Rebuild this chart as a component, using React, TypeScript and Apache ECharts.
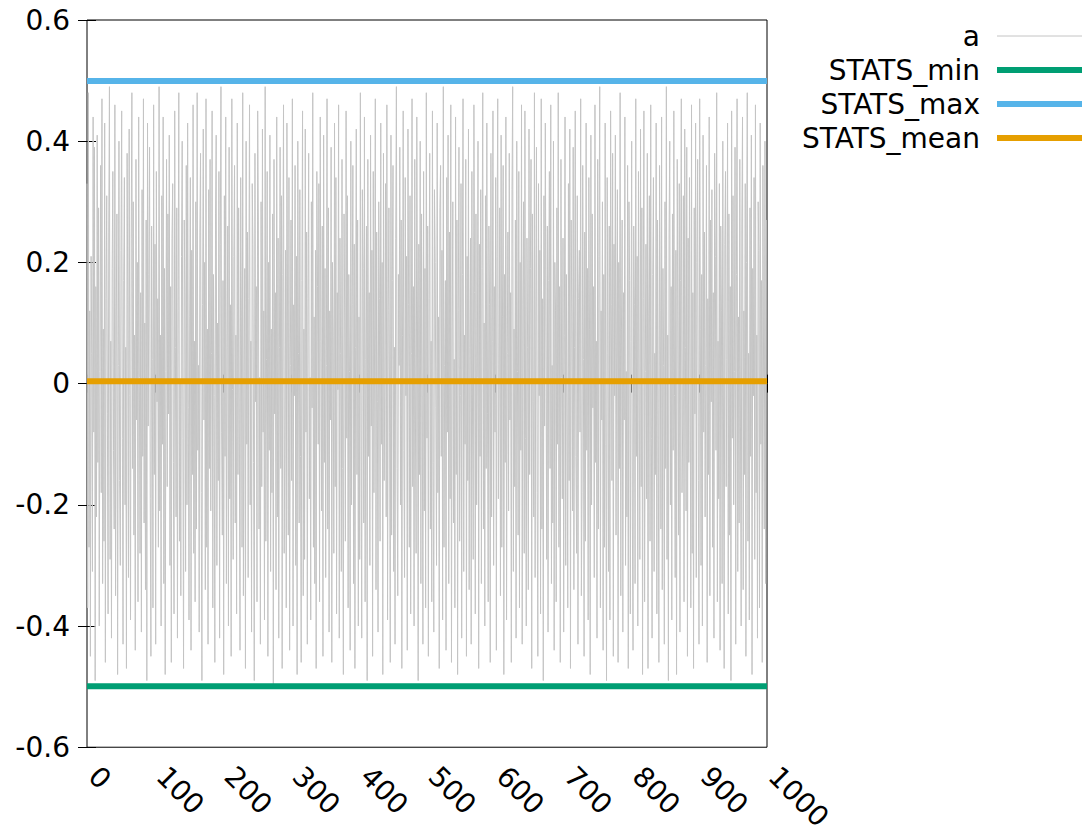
import React, { useEffect, useRef } from "react";
import * as echarts from "echarts";

// Series "a": values read (estimated) from the reference, x = index 0..999
const seriesA: number[] = [
  .33,-.37,.48,-.27,.12,-.45,.21,.05,-.31,.44,-.08,.39,-.49,.16,-.22,.41,-.13,.29,-.40,.02,
  .36,-.18,.47,-.33,.09,-.26,.43,-.46,.14,.31,-.05,-.38,.25,.49,-.29,.07,-.42,.19,.35,-.11,
  -.24,.46,-.35,.11,.28,-.48,.03,.40,-.16,-.30,.22,.45,-.09,-.43,.17,.34,-.20,.06,-.47,.38,
  .13,-.32,.42,-.02,-.39,.24,.48,-.14,.30,-.25,.08,-.44,.37,-.06,.20,-.36,.44,.01,-.28,.15,
  -.41,.32,-.12,.47,-.23,.10,-.34,.27,-.49,.43,-.07,.18,.39,-.19,-.45,.26,.04,-.37,.46,-.15,
  .23,-.43,.35,-.03,.14,-.27,.49,-.21,.08,-.40,.31,-.10,.44,-.33,.19,-.48,.02,.37,-.17,.28,
  -.05,.41,-.30,.16,-.46,.24,.33,-.13,-.38,.45,.06,-.22,.29,-.42,.12,.48,-.26,.00,-.35,.21,
  .40,-.09,-.47,.27,.15,-.31,.36,-.20,.43,-.04,-.39,.11,.34,-.44,.22,-.15,.46,-.28,.07,-.36,
  .30,-.24,.48,-.11,.03,-.41,.25,.38,-.18,-.49,.13,.42,-.06,.20,-.34,.47,-.27,.09,-.43,.32,
  -.14,.37,-.21,.05,.45,-.37,.18,-.02,-.46,.28,.41,-.30,.10,-.16,.35,-.42,.23,.49,-.08,-.25,
  .17,-.48,.31,-.12,.44,-.33,.06,.26,-.40,.39,-.19,.13,-.45,.47,-.01,-.29,.21,.36,-.23,.08,
  -.38,.43,-.15,.29,-.06,-.44,.34,.11,-.27,.48,-.35,.02,.19,-.47,.40,-.10,.25,-.32,.14,.46,
  -.20,.07,-.41,.33,.23,-.13,-.49,.38,-.03,.16,-.36,.45,.27,-.24,.01,-.43,.30,-.17,.42,-.08,
  .12,-.39,.49,-.26,.04,.35,-.45,.20,-.11,.41,-.31,.09,-.18,.28,-.50,.37,-.05,.15,-.34,.44,
  -.22,.24,-.42,.06,.39,-.14,.31,-.47,.18,.46,-.28,-.07,.22,-.37,.43,.10,-.25,.34,-.44,.03,
  .27,-.16,.47,-.40,.13,-.02,.36,-.30,.21,-.48,.40,.05,-.23,.32,-.12,-.46,.17,.45,-.35,.09,
  -.29,.42,-.08,.25,-.43,.14,.38,-.19,.01,-.39,.30,-.04,.48,-.27,.11,-.33,.22,-.47,.35,.16,
  -.10,.33,-.36,.44,.07,-.21,.26,-.45,.41,-.13,.19,-.32,.03,.47,-.24,.29,-.41,.12,-.06,.39,
  -.46,.20,.08,-.28,.43,-.17,.34,-.38,.15,-.01,.46,-.42,.24,.05,-.31,.37,-.14,-.48,.28,.10,
  -.26,.45,-.09,.31,-.37,.18,.02,-.44,.40,-.20,.13,.36,-.33,.23,-.47,.06,.42,-.15,.27,-.40,
  .11,-.29,.48,-.05,-.42,.32,.19,-.23,.44,-.36,.04,.26,-.49,.37,-.12,.15,-.30,.41,-.07,.22,
  -.45,.35,-.18,.09,.47,-.34,.25,-.03,-.41,.30,.14,-.26,.43,-.10,.20,-.48,.38,-.16,.01,.33,
  -.22,.46,-.39,.12,.29,-.08,-.46,.41,-.25,.17,.36,-.31,.06,-.43,.24,.49,-.14,-.35,.18,.03,
  .39,-.20,.27,-.47,.08,.45,-.11,-.32,.34,-.02,.21,-.44,.42,.13,-.27,.31,-.38,.05,.47,-.17,
  .16,-.40,.37,-.06,-.28,.44,.10,-.49,.23,-.15,.40,-.33,.28,.00,-.43,.35,-.21,.19,-.37,.48,
  -.09,.26,-.45,.14,.38,-.24,.07,-.36,.45,-.13,-.41,.32,.20,-.04,-.30,.43,-.18,.11,-.47,.29,
  .36,-.12,.22,-.39,.49,-.27,.03,.17,-.44,.34,-.08,.41,-.33,.25,-.19,.46,-.46,.09,.30,-.23,
  .04,-.37,.44,-.15,.27,-.48,.12,.39,-.26,-.02,.33,-.42,.18,.47,-.31,.08,-.10,.37,-.45,.21,
  -.16,.42,-.34,.06,.24,-.43,.35,-.07,-.29,.46,.15,-.38,.28,-.20,.01,.40,-.47,.23,-.12,.32,
  -.33,.19,.48,-.24,.10,-.40,.31,-.14,.43,-.05,-.36,.26,.13,-.46,.38,-.22,.07,.45,-.30,.16,
  -.08,.34,-.44,.21,.47,-.19,-.01,.29,-.35,.41,-.27,.11,.36,-.48,.18,-.13,.44,-.39,.05,.25,
  -.21,.38,-.06,.15,-.46,.32,.49,-.31,.09,-.17,.27,-.42,.40,.02,-.25,.35,-.37,.20,-.11,.46,
  -.43,.13,.30,-.28,.45,-.09,-.40,.24,.06,-.34,.42,-.15,.19,.37,-.47,.28,-.03,-.22,.48,-.32,
  .10,.39,-.18,-.45,.33,-.02,.22,-.38,.47,-.24,.14,-.49,.31,-.07,.43,.08,-.29,.26,-.41,.17,
  .35,-.14,.46,-.33,.03,-.23,.40,-.44,.20,.12,-.36,.29,-.10,.48,-.27,.16,-.46,.37,.01,-.19,
  .24,-.41,.08,.44,-.30,.18,-.05,-.37,.33,-.16,.42,-.47,.27,.11,-.21,.39,-.34,.06,.45,-.12,
  -.28,.31,-.43,.14,.22,-.08,.47,-.35,-.18,.36,.04,-.45,.25,-.26,.43,-.11,.19,-.39,.34,.09,
  -.48,.41,-.20,.28,-.04,.16,-.32,.46,-.13,.07,-.42,.37,-.24,.21,.49,-.37,.12,-.06,.30,-.44,
  .18,-.27,.43,-.10,-.49,.34,.05,-.31,.26,-.39,.45,.13,-.16,.38,-.45,.23,-.02,.41,-.25,.10,
  .32,-.46,.20,-.14,.48,-.35,.09,.27,-.41,.15,-.06,.44,-.30,.02,-.22,.36,-.47,.30,.17,-.38,
  .07,.40,-.23,-.44,.26,.13,-.33,.47,-.12,.21,-.40,.35,-.01,-.29,.42,-.17,.29,-.48,.14,.45,
  -.36,.02,.23,-.19,.38,-.47,.11,.31,-.26,.46,-.09,-.42,.18,.34,-.31,.05,-.15,.43,-.38,.27,
  -.04,-.46,.36,.12,-.24,.44,-.34,.19,.03,-.43,.30,-.14,.49,-.29,.08,-.49,.25,.40,-.20,.16,
  -.39,.28,-.11,.45,-.02,-.32,.22,-.48,.37,.10,-.25,.33,-.41,.17,.47,-.18,-.07,.31,-.36,.42,
  .06,-.21,.39,-.45,.24,-.13,.34,.01,-.37,.46,-.28,.15,-.47,.29,-.05,.43,-.32,.20,.37,-.16,
  -.43,.47,.09,-.30,.18,-.40,.41,-.08,.25,-.22,.03,.36,-.46,.14,-.15,.44,-.35,.27,-.03,.32,
  -.27,.15,-.42,.38,.21,-.11,.48,-.36,.07,-.19,.33,-.44,.26,.12,-.33,.40,-.06,-.47,.23,.35,
  -.17,.04,.43,-.38,.28,-.25,.16,-.49,.45,-.09,.31,-.20,.02,.39,-.43,.18,.47,-.31,.11,-.23,
  .37,-.07,-.40,.26,.44,-.34,.12,-.15,.33,-.45,.20,.48,-.26,.05,-.39,.29,-.12,.41,-.48,.19,
  -.02,.34,-.29,.46,-.18,.08,-.42,.30,.22,-.37,.43,-.10,.17,-.46,.36,.01,-.24,.40,-.33,.27,
];

const STATS_min = -0.4995;
const STATS_max = 0.4993;
const STATS_mean = 0.004;

const xRange: number[] = [0, 1000];
const yRange: number[] = [-0.6, 0.6];
const seriesNames: string[] = ["a", "STATS_min", "STATS_max", "STATS_mean"];
const seriesColors: string[] = ["#c4c4c4", "#009e73", "#56b4e9", "#e69f00"];
const lineWidths: number[] = [1, 6, 6, 6];

const FONT = "DejaVu Sans";
const FS = 28;

export default function App() {
  const ref = useRef<HTMLDivElement>(null);
  useEffect(() => {
    if (!ref.current) return;
    const chart = echarts.init(ref.current, undefined, { renderer: "svg" });
    const fmtY = (v: number) => {
      const r = Math.round(v * 10) / 10;
      return r === 0 ? "0" : String(r);
    };
    const tickCommon = { inside: true, length: 9, lineStyle: { color: "#000", width: 1 } };
    const hLine = (y: number) => [
      [xRange[0], y],
      [xRange[1], y],
    ];
    chart.setOption({
      animation: false,
      color: seriesColors,
      grid: {
        left: 87,
        top: 20,
        width: 680,
        height: 733,
        show: true,
        borderColor: "#000",
        borderWidth: 1,
        backgroundColor: "transparent",
      },
      legend: {
        orient: "vertical",
        right: -2,
        top: 17,
        align: "right",
        itemWidth: 85,
        itemHeight: 14,
        itemGap: 6,
        selectedMode: false,
        itemStyle: { opacity: 0, color: "transparent", borderWidth: 0 },
        textStyle: { fontFamily: FONT, fontSize: FS, color: "#000", padding: [0, 12, 0, 0] },
        data: seriesNames.map((n, i) => ({
          name: n,
          lineStyle: { width: lineWidths[i], color: seriesColors[i] },
          itemStyle: { opacity: 0, color: "transparent", borderWidth: 0 },
        })),
      },
      xAxis: [
        {
          type: "value",
          min: xRange[0],
          max: xRange[1],
          interval: 100,
          position: "bottom",
          splitLine: { show: false },
          axisLine: { show: false },
          axisTick: tickCommon,
          axisLabel: {
            rotate: -45,
            margin: 18,
            padding: [0, 0, 0, 9],
            fontFamily: FONT,
            fontSize: FS,
            color: "#000",
            formatter: (v: number) => String(v),
          },
        },
        {
          type: "value",
          min: xRange[0],
          max: xRange[1],
          interval: 100,
          position: "top",
          splitLine: { show: false },
          axisLine: { show: false },
          axisTick: tickCommon,
          axisLabel: { show: false },
        },
      ],
      yAxis: [
        {
          type: "value",
          min: yRange[0],
          max: yRange[1],
          interval: 0.2,
          position: "left",
          splitLine: { show: false },
          axisLine: { show: false },
          axisTick: tickCommon,
          axisLabel: {
            margin: 17,
            fontFamily: FONT,
            fontSize: FS,
            color: "#000",
            formatter: fmtY,
          },
        },
        {
          type: "value",
          min: yRange[0],
          max: yRange[1],
          interval: 0.2,
          position: "right",
          splitLine: { show: false },
          axisLine: { show: false },
          axisTick: tickCommon,
          axisLabel: { show: false },
        },
      ],
      series: [
        {
          name: seriesNames[0],
          type: "line",
          symbol: "none",
          lineStyle: { color: seriesColors[0], width: lineWidths[0] },
          data: seriesA.map((v, i) => [i, v]),
          z: 2,
        },
        {
          name: seriesNames[1],
          type: "line",
          symbol: "none",
          lineStyle: { color: seriesColors[1], width: lineWidths[1] },
          data: hLine(STATS_min),
          z: 3,
        },
        {
          name: seriesNames[2],
          type: "line",
          symbol: "none",
          lineStyle: { color: seriesColors[2], width: lineWidths[2] },
          data: hLine(STATS_max),
          z: 3,
        },
        {
          name: seriesNames[3],
          type: "line",
          symbol: "none",
          lineStyle: { color: seriesColors[3], width: lineWidths[3] },
          data: hLine(STATS_mean),
          z: 3,
        },
      ],
    });
    return () => chart.dispose();
  }, []);
  return (
    <div
      ref={ref}
      style={{ position: "absolute", left: 0, top: 0, width: 1088, height: 834 }}
    />
  );
}
